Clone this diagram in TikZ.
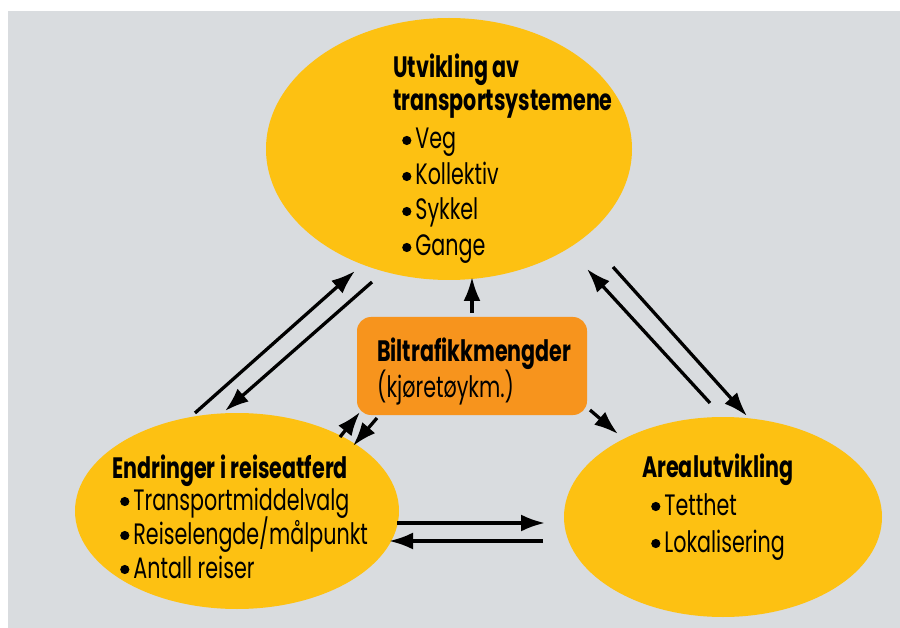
\documentclass[tikz,border=0pt]{standalone}
\usepackage{fontspec}
\setmainfont{Poppins}[FakeStretch=0.70]
\usetikzlibrary{arrows.meta,shapes.geometric}
\definecolor{bggray}{HTML}{D9DCDF}
\definecolor{sunyellow}{HTML}{FDC112}
\definecolor{boxorange}{HTML}{F7941D}
\newcommand\bul{\tikz[baseline=0pt]\fill[black] (4.6pt,8.5pt) circle[radius=4.6pt];\hspace{4pt}}
\tikzset{
  blob/.style={ellipse,fill=sunyellow,draw=none,inner sep=0pt},
  txt/.style={anchor=base west,inner sep=0pt,text height=21pt,text depth=6pt,font=\fontsize{29.5}{33}\selectfont,text=black},
  ttl/.style={txt,font=\fontsize{29.5}{33}\selectfont\bfseries},
  link/.style={line width=3.3pt,-{Latex[length=24pt,width=17pt]}},
}
\begin{document}
\begin{tikzpicture}[x=1pt,y=-1pt]
\useasboundingbox (0,0) rectangle (900,628);
\fill[white] (0,0) rectangle (900,628);
\fill[bggray] (8,11) rectangle (900,628);
% ellipses
\node[blob,minimum width=366pt,minimum height=262pt] (top) at (449,149) {};
\node[blob,minimum width=324pt,minimum height=196pt] (left) at (237,511) {};
\node[blob,minimum width=318pt,minimum height=200pt] (right) at (723,517) {};
\node[fill=boxorange,rounded corners=14pt,minimum width=230pt,minimum height=98pt,inner sep=0pt] (box) at (472,366) {};
% texts
\node[ttl] (t1) at (393,78) {Utvikling av};
\node[ttl] (t2) at (393,111) {transportsystemene};
\node[txt] (t3) at (402,149) {\bul Veg};
\node[txt] (t4) at (402,185) {\bul Kollektiv};
\node[txt] (t5) at (402,220) {\bul Sykkel};
\node[txt] (t6) at (402,256) {\bul Gange};
\node[ttl] (b1) at (377,362) {Biltrafikkmengder};
\node[txt] (b2) at (377,397) {(kjøretøykm.)};
\node[ttl] (l1) at (112,478) {Endringer i reiseatferd};
\node[txt] (l2) at (120,510) {\bul Transportmiddelvalg};
\node[txt] (l3) at (120,544) {\bul Reiselengde/målpunkt};
\node[txt] (l4) at (120,578) {\bul Antall reiser};
\node[ttl] (r1) at (642,477) {Arealutvikling};
\node[txt] (r2) at (651,515) {\bul Tetthet};
\node[txt] (r3) at (651,552) {\bul Lokalisering};
% arrow end points
\coordinate (a1s) at (195,413); \coordinate (a1e) at (355,271);
\coordinate (a2s) at (372,282); \coordinate (a2e) at (225,411);
\coordinate (a3s) at (710,403); \coordinate (a3e) at (587,269);
\coordinate (a4s) at (613,267); \coordinate (a4e) at (747,416);
\coordinate (a5s) at (397,523); \coordinate (a5e) at (545,523);
\coordinate (a6s) at (543,541); \coordinate (a6e) at (389,541);
\coordinate (a7s) at (472,313); \coordinate (a7e) at (472,277);
\coordinate (a8s) at (590,410); \coordinate (a8e) at (618,434);
\coordinate (a9s) at (340,437); \coordinate (a9e) at (360,412);
\coordinate (a10s) at (377,418); \coordinate (a10e) at (353,446);
\draw[link] (a1s) -- (a1e);
\draw[link] (a2s) -- (a2e);
\draw[link] (a3s) -- (a3e);
\draw[link] (a4s) -- (a4e);
\draw[link] (a5s) -- (a5e);
\draw[link] (a6s) -- (a6e);
\draw[link] (a7s) -- (a7e);
\draw[link] (a8s) -- (a8e);
\draw[link] (a9s) -- (a9e);
\draw[link] (a10s) -- (a10e);
\end{tikzpicture}
\end{document}
